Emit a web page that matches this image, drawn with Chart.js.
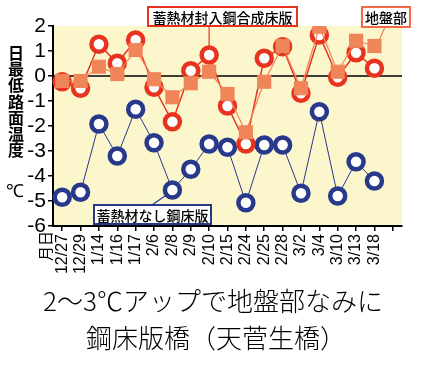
<!DOCTYPE html>
<html>
<head>
<meta charset="utf-8">
<script src="https://cdn.jsdelivr.net/npm/chart.js@4/dist/chart.umd.min.js"></script>
<style>
  html, body { margin: 0; padding: 0; background: #fff; }
  #wrap { width: 424px; height: 371px; }
</style>
</head>
<body>
<div id="wrap"><canvas id="chart" width="424" height="371"></canvas></div>
<script>
// 日付（最後は目盛りだけの空き）
const dates = ['12/27', '12/29', '1/14', '1/16', '1/17', '2/6', '2/8', '2/9', '2/10',
               '2/15', '2/24', '2/25', '2/28', '3/2', '3/4', '3/10', '3/13', '3/18', ''];

// 蓄熱材封入鋼合成床版
const withStorage = [-0.23, -0.49, 1.27, 0.51, 1.44, -0.45, -1.83, 0.21, 0.84,
                     -1.2, -2.72, 0.71, 1.17, -0.69, 1.64, -0.05, 0.93, 0.31];
// 地盤部
const ground = [-0.2, -0.2, 0.37, 0.08, 1.04, -0.13, -0.85, -0.29, 0.17,
                -0.72, -2.25, -0.23, 1.2, -0.49, 1.97, 0.17, 1.41, 1.2];
// 蓄熱材なし鋼床版
const noStorage = [-4.85, -4.65, -1.92, -3.2, -1.33, -2.67, -4.56, -3.73, -2.72,
                   -2.85, -5.07, -2.76, -2.76, -4.69, -1.43, -4.8, -3.43, -4.2];

const yTitle = ['日', '最', '低', '路', '面', '温', '度'];
const caption = ['2～3℃アップで地盤部なみに', '鋼床版橋（天菅生橋）'];

const RED = '#e8341f';
const ORANGE = '#f0855a';
const BLUE = '#28398c';
const JP = '"Noto Sans CJK JP", "Noto Sans", sans-serif';

// 背景・ゼロ線・注記など
const decor = {
    id: 'decor',
    beforeDatasetsDraw(chart) {
        const { ctx, chartArea: a, scales } = chart;
        ctx.save();
        // ゼロ線
        const y0 = scales.y.getPixelForValue(0);
        ctx.strokeStyle = '#000';
        ctx.lineWidth = 1.5;
        ctx.beginPath();
        ctx.moveTo(a.left, y0);
        ctx.lineTo(a.right, y0);
        ctx.stroke();
        ctx.restore();
    },
    beforeDraw(chart) {
        const { ctx, chartArea: a } = chart;
        ctx.save();
        ctx.fillStyle = '#fcf6cd';
        ctx.fillRect(a.left, a.top, a.right - a.left, a.bottom - a.top);
        ctx.restore();
    },
    afterDraw(chart) {
        const { ctx, scales } = chart;
        const x = scales.x, y = scales.y;
        ctx.save();

        // 注記の引き出し線
        const lead = (x1, y1, x2, y2, color) => {
            ctx.strokeStyle = color;
            ctx.lineWidth = 1.2;
            ctx.beginPath();
            ctx.moveTo(x1, y1);
            ctx.lineTo(x2, y2);
            ctx.stroke();
        };
        const box = (text, l, t, w, h, color) => {
            ctx.fillStyle = '#fff';
            ctx.fillRect(l, t, w, h);
            ctx.strokeStyle = color;
            ctx.lineWidth = 2;
            ctx.strokeRect(l, t, w, h);
            ctx.fillStyle = '#000';
            ctx.font = '500 14px ' + JP;
            ctx.textAlign = 'center';
            ctx.textBaseline = 'middle';
            ctx.fillText(text, l + w / 2, t + h / 2 + 1);
        };

        const px8 = x.getPixelForValue(8);
        lead(px8, 26, px8, y.getPixelForValue(withStorage[8]) - 9, RED);
        box('蓄熱材封入鋼合成床版', 148, 7, 149, 19, RED);

        lead(385, 27, x.getPixelForValue(17) + 4, y.getPixelForValue(ground[17]) - 4, ORANGE);
        box('地盤部', 362, 7, 48, 20, '#f06a48');

        lead(152, 205, x.getPixelForValue(6) - 6, y.getPixelForValue(noStorage[6]) + 5, BLUE);
        box('蓄熱材なし鋼床版', 94, 205, 117, 19, BLUE);

        // 縦書きの軸タイトル
        ctx.fillStyle = '#000';
        ctx.font = 'bold 16px ' + JP;
        ctx.textAlign = 'center';
        ctx.textBaseline = 'middle';
        yTitle.forEach((c, i) => ctx.fillText(c, 16, 53 + i * 16.2));
        ctx.font = '18px "Liberation Sans", sans-serif';
        ctx.fillText('℃', 15, 192);

        // 月日
        ctx.save();
        ctx.translate(45, 246);
        ctx.rotate(-Math.PI / 2);
        ctx.font = '15px ' + JP;
        ctx.fillText('月日', 0, 0);
        ctx.restore();

        // 下のキャプション
        ctx.font = '300 26px ' + JP;
        ctx.fillText(caption[0], 213, 301);
        ctx.fillText(caption[1], 216, 338);
        ctx.restore();
    }
};

new Chart(document.getElementById('chart'), {
    type: 'line',
    data: {
        labels: dates,
        datasets: [
            {
                label: '地盤部',
                data: ground,
                order: 0,
                borderColor: ORANGE,
                borderWidth: 1.2,
                pointStyle: 'rect',
                pointRadius: 10,
                pointBackgroundColor: ORANGE,
                pointBorderColor: ORANGE,
                pointBorderWidth: 0
            },
            {
                label: '蓄熱材封入鋼合成床版',
                data: withStorage,
                order: 1,
                borderColor: RED,
                borderWidth: 1.5,
                pointRadius: 7.5,
                pointBackgroundColor: '#fff',
                pointBorderColor: RED,
                pointBorderWidth: 4.5
            },
            {
                label: '蓄熱材なし鋼床版',
                data: noStorage,
                order: 2,
                borderColor: BLUE,
                borderWidth: 1,
                pointRadius: 7.5,
                pointBackgroundColor: '#fff',
                pointBorderColor: BLUE,
                pointBorderWidth: 4.5
            }
        ]
    },
    options: {
        responsive: false,
        animation: false,
        layout: { padding: { left: 0, top: 26, right: 22, bottom: 95 } },
        plugins: { legend: { display: false }, tooltip: { enabled: false } },
        scales: {
            x: {
                offset: true,
                afterFit: (s) => { s.height = 50; },
                border: { color: '#000', width: 2 },
                grid: { offset: false, drawOnChartArea: false, tickLength: 5, color: '#000', lineWidth: 1.5 },
                ticks: {
                    autoSkip: false,
                    minRotation: 90,
                    maxRotation: 90,
                    padding: 3,
                    color: '#000',
                    font: { family: '"Liberation Sans", Arial, sans-serif', size: 16 }
                }
            },
            y: {
                min: -6,
                max: 2,
                afterFit: (s) => { s.width = 53; },
                border: { color: '#000', width: 2 },
                grid: { drawOnChartArea: false, tickLength: 5, color: '#000', lineWidth: 1.5 },
                ticks: {
                    stepSize: 1,
                    autoSkip: false,
                    padding: 2,
                    color: '#000',
                    font: { family: '"Liberation Sans", Arial, sans-serif', size: 21 }
                }
            }
        }
    },
    plugins: [decor]
});
</script>
</body>
</html>
